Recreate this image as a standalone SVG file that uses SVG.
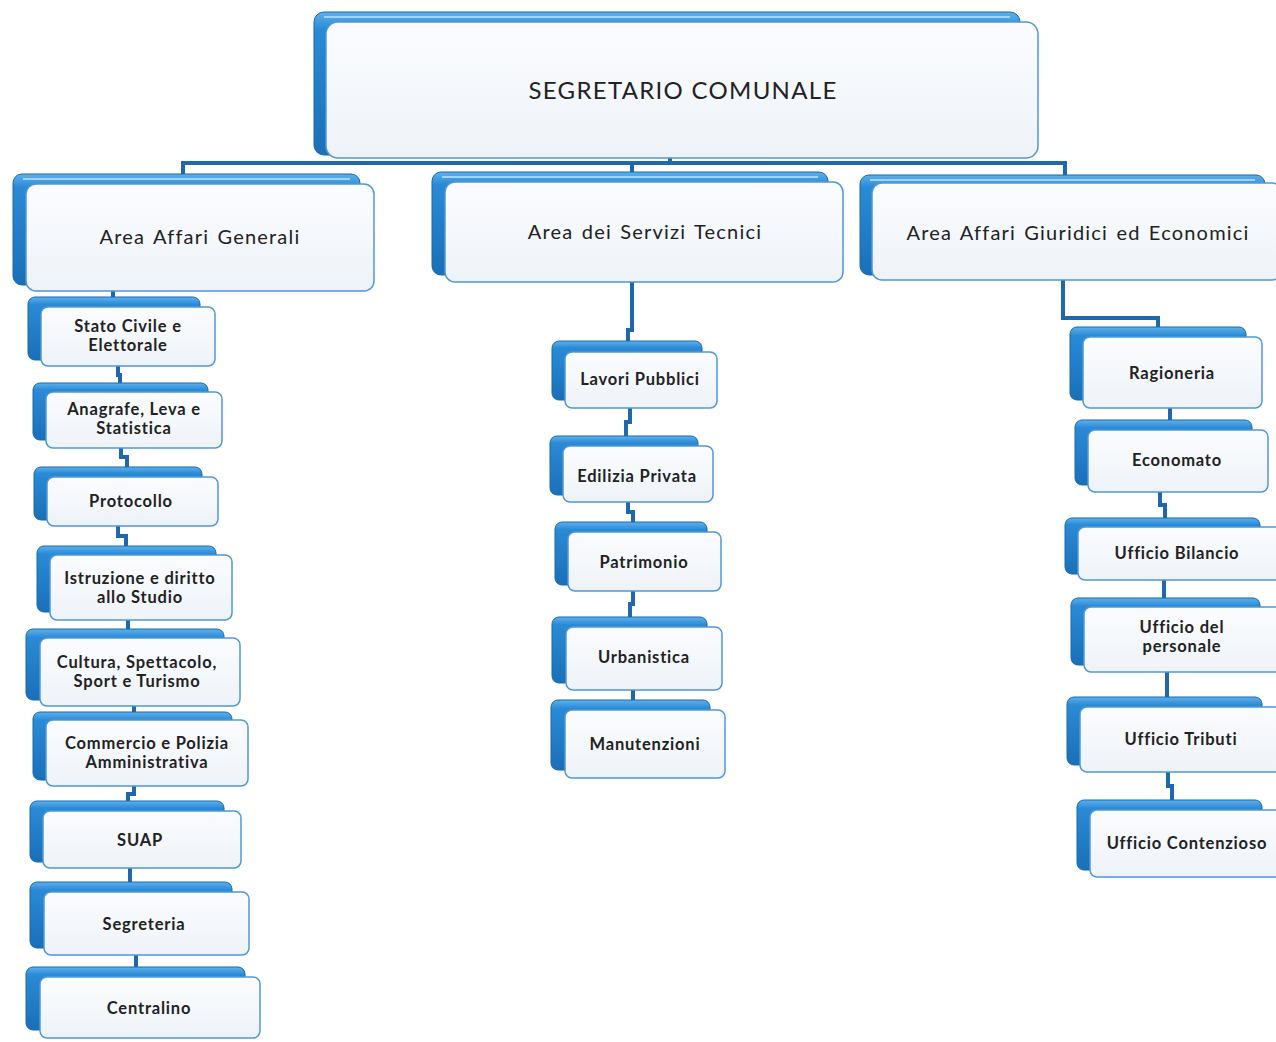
<svg xmlns="http://www.w3.org/2000/svg" width="1276" height="1042" viewBox="0 0 1276 1042">
<defs>
<linearGradient id="gb" x1="0" y1="0" x2="0" y2="1">
<stop offset="0" stop-color="#5fb0ea"/>
<stop offset="0.12" stop-color="#2a8ad6"/>
<stop offset="1" stop-color="#1a6fb8"/>
</linearGradient>
<linearGradient id="gf" x1="0" y1="0" x2="0" y2="1">
<stop offset="0" stop-color="#fbfcfe"/>
<stop offset="1" stop-color="#eef3f9"/>
</linearGradient>
<style>
.bk{fill:url(#gb);stroke:#176ab0;stroke-width:1}
.fr{fill:url(#gf);stroke:#4f98d6;stroke-width:1.5}
.hl{stroke:#9fd3f7;stroke-width:2;fill:none}
.t1{font-family:Lato,"Liberation Sans",sans-serif;font-size:24px;letter-spacing:1.3px;fill:#222;text-anchor:middle}
.t2{font-family:Lato,"Liberation Sans",sans-serif;font-size:20px;letter-spacing:1.2px;word-spacing:2px;fill:#222;text-anchor:middle}
.t3{font-family:Lato,"Liberation Sans",sans-serif;font-size:16.5px;letter-spacing:0.8px;font-weight:bold;fill:#222;text-anchor:middle}
.cn{fill:none;stroke:#1f68ad;stroke-width:4}
</style>
</defs>
<rect width="1276" height="1042" fill="#ffffff"/>
<g id="connectors">
<path class="cn" d="M670 158 V163 M183 175 V163 H1065 V175 M632 163 V172"/>
<path class="cn" d="M113 291 V297 M118 366 V375 H120 V383 M121 448 V457 H127 V467 M118 526 V536 H126 V546 M128 620 V629 M134 706 V712 M134 786 V794 H128 V801 M130 868 V882 M136 955 V967"/>
<path class="cn" d="M632 282 V330 H628 V341 M630 408 V422 H626 V436 M628 502 V512 H633 V522 M633 591 V604 H630 V617 M633 690 V700"/>
<path class="cn" d="M1063 280 V318 H1158 V327 M1170 408 V420 M1160 492 V505 H1165 V518 M1164 580 V598 M1167 672 V697 M1168 772 V786 H1172 V800"/>
</g>
<g id="n-segretario">
<rect class="bk" x="314" y="12" width="706" height="143" rx="10"/>
<path class="hl" d="M324 17 H1010"/>
<rect class="fr" x="326" y="22" width="712" height="136" rx="12"/>
<text class="t1" x="683" y="99">SEGRETARIO COMUNALE</text>
</g>
<g id="n-area-generali">
<rect class="bk" x="13" y="174" width="347" height="111" rx="9"/>
<path class="hl" d="M23 179 H350"/>
<rect class="fr" x="26" y="184" width="348" height="107" rx="10"/>
<text class="t2" x="200" y="244">Area Affari Generali</text>
</g>
<g id="n-area-tecnici">
<rect class="bk" x="432" y="172" width="396" height="103" rx="9"/>
<path class="hl" d="M442 177 H818"/>
<rect class="fr" x="445" y="182" width="398" height="100" rx="10"/>
<text class="t2" x="645" y="239">Area dei Servizi Tecnici</text>
</g>
<g id="n-area-giuridici">
<rect class="bk" x="860" y="175" width="405" height="100" rx="9"/>
<path class="hl" d="M870 180 H1255"/>
<rect class="fr" x="872" y="183" width="410" height="97" rx="10"/>
<text class="t2" x="1078" y="240">Area Affari Giuridici ed Economici</text>
</g>
<g id="n-stato-civile">
<rect class="bk" x="28" y="297" width="172" height="63" rx="7"/>
<rect class="fr" x="41" y="307" width="174" height="59" rx="7"/>
<text class="t3" x="128" y="332">Stato Civile e</text>
<text class="t3" x="128" y="351">Elettorale</text>
</g>
<g id="n-anagrafe">
<rect class="bk" x="33" y="383" width="175" height="57" rx="7"/>
<rect class="fr" x="46" y="392" width="176" height="56" rx="7"/>
<text class="t3" x="134" y="415">Anagrafe, Leva e</text>
<text class="t3" x="134" y="434">Statistica</text>
</g>
<g id="n-protocollo">
<rect class="bk" x="34" y="467" width="168" height="53" rx="7"/>
<rect class="fr" x="47" y="477" width="171" height="49" rx="7"/>
<text class="t3" x="131" y="507">Protocollo</text>
</g>
<g id="n-istruzione">
<rect class="bk" x="37" y="546" width="179" height="66" rx="7"/>
<rect class="fr" x="50" y="555" width="182" height="65" rx="7"/>
<text class="t3" x="140" y="584">Istruzione e diritto</text>
<text class="t3" x="140" y="603">allo Studio</text>
</g>
<g id="n-cultura">
<rect class="bk" x="26" y="629" width="198" height="71" rx="7"/>
<rect class="fr" x="40" y="638" width="200" height="68" rx="7"/>
<text class="t3" x="137" y="668">Cultura, Spettacolo,</text>
<text class="t3" x="137" y="687">Sport e Turismo</text>
</g>
<g id="n-commercio">
<rect class="bk" x="33" y="712" width="199" height="68" rx="7"/>
<rect class="fr" x="46" y="720" width="202" height="66" rx="7"/>
<text class="t3" x="147" y="749">Commercio e Polizia</text>
<text class="t3" x="147" y="768">Amministrativa</text>
</g>
<g id="n-suap">
<rect class="bk" x="30" y="801" width="194" height="61" rx="7"/>
<rect class="fr" x="43" y="811" width="198" height="57" rx="7"/>
<text class="t3" x="140" y="846">SUAP</text>
</g>
<g id="n-segreteria">
<rect class="bk" x="30" y="882" width="202" height="66" rx="7"/>
<rect class="fr" x="44" y="892" width="205" height="63" rx="7"/>
<text class="t3" x="144" y="930">Segreteria</text>
</g>
<g id="n-centralino">
<rect class="bk" x="26" y="967" width="219" height="63" rx="7"/>
<rect class="fr" x="40" y="977" width="220" height="61" rx="7"/>
<text class="t3" x="149" y="1014">Centralino</text>
</g>
<g id="n-lavori">
<rect class="bk" x="552" y="341" width="150" height="59" rx="7"/>
<rect class="fr" x="565" y="352" width="152" height="56" rx="7"/>
<text class="t3" x="640" y="385">Lavori Pubblici</text>
</g>
<g id="n-edilizia">
<rect class="bk" x="550" y="436" width="148" height="59" rx="7"/>
<rect class="fr" x="563" y="446" width="150" height="56" rx="7"/>
<text class="t3" x="637" y="482">Edilizia Privata</text>
</g>
<g id="n-patrimonio">
<rect class="bk" x="555" y="522" width="152" height="63" rx="7"/>
<rect class="fr" x="568" y="532" width="153" height="59" rx="7"/>
<text class="t3" x="644" y="568">Patrimonio</text>
</g>
<g id="n-urbanistica">
<rect class="bk" x="552" y="617" width="155" height="66" rx="7"/>
<rect class="fr" x="566" y="627" width="156" height="63" rx="7"/>
<text class="t3" x="644" y="663">Urbanistica</text>
</g>
<g id="n-manutenzioni">
<rect class="bk" x="551" y="700" width="159" height="70" rx="7"/>
<rect class="fr" x="565" y="710" width="160" height="68" rx="7"/>
<text class="t3" x="645" y="750">Manutenzioni</text>
</g>
<g id="n-ragioneria">
<rect class="bk" x="1070" y="327" width="176" height="73" rx="7"/>
<rect class="fr" x="1083" y="337" width="179" height="71" rx="7"/>
<text class="t3" x="1172" y="379">Ragioneria</text>
</g>
<g id="n-economato">
<rect class="bk" x="1075" y="420" width="177" height="65" rx="7"/>
<rect class="fr" x="1088" y="430" width="180" height="62" rx="7"/>
<text class="t3" x="1177" y="466">Economato</text>
</g>
<g id="n-bilancio">
<rect class="bk" x="1065" y="518" width="195" height="56" rx="7"/>
<rect class="fr" x="1078" y="527" width="205" height="53" rx="7"/>
<text class="t3" x="1177" y="559">Ufficio Bilancio</text>
</g>
<g id="n-personale">
<rect class="bk" x="1071" y="598" width="189" height="67" rx="7"/>
<rect class="fr" x="1084" y="607" width="199" height="65" rx="7"/>
<text class="t3" x="1182" y="633">Ufficio del</text>
<text class="t3" x="1182" y="652">personale</text>
</g>
<g id="n-tributi">
<rect class="bk" x="1067" y="697" width="195" height="68" rx="7"/>
<rect class="fr" x="1080" y="707" width="203" height="65" rx="7"/>
<text class="t3" x="1181" y="745">Ufficio Tributi</text>
</g>
<g id="n-contenzioso">
<rect class="bk" x="1077" y="800" width="185" height="70" rx="7"/>
<rect class="fr" x="1090" y="810" width="193" height="67" rx="7"/>
<text class="t3" x="1187" y="849">Ufficio Contenzioso</text>
</g>
</svg>
